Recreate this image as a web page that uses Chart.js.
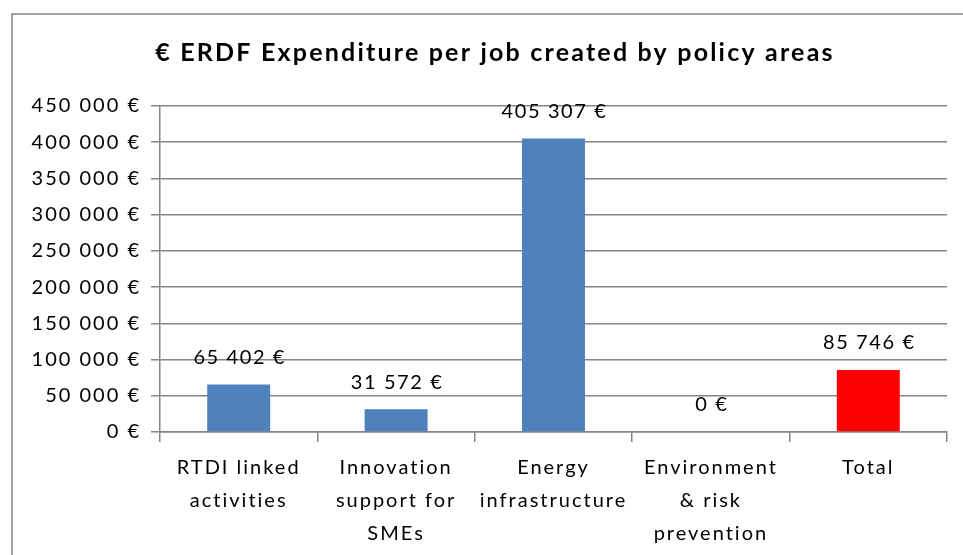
<!DOCTYPE html>
<html><head><meta charset="utf-8">
<script src="https://cdn.jsdelivr.net/npm/chart.js@4"></script>
<style>html,body{margin:0;padding:0;background:#fff}#wrap{width:963px;height:555px;position:relative}</style>
</head><body><div id="wrap"><canvas id="c" width="963" height="555"></canvas></div>
<script>
const titleText = "€ ERDF Expenditure per job created by policy areas";
const categories = [["RTDI linked","activities"],["Innovation","support for","SMEs"],["Energy","infrastructure"],["Environment","& risk","prevention"],["Total"]];
const values = [65402, 31572, 405307, 0, 85746];
const barColors = ["#4F81BD","#4F81BD","#4F81BD","#4F81BD","#FF0000"];
const yMin = 0, yMax = 450000, yStep = 50000;

const FONT = "Lato, 'Open Sans', sans-serif";
function fmt(v){ return String(Math.round(v)).replace(/\B(?=(\d{3})+(?!\d))/g, "\u00A0") + "\u00A0€"; }

const canvas = document.getElementById('c');

const framePlugin = {
  id:'frame',
  beforeDraw(chart){
    const ctx = chart.ctx;
    ctx.save();
    ctx.strokeStyle = '#858585'; ctx.lineWidth = 1.5;
    ctx.beginPath(); ctx.moveTo(12, 555); ctx.lineTo(12, 14); ctx.lineTo(963, 14); ctx.stroke();
    ctx.fillStyle = '#000'; ctx.font = "bold 25px " + FONT; ctx.letterSpacing = '2.2px';
    ctx.textAlign='center'; ctx.textBaseline='middle';
    ctx.fillText(titleText, 495, 53);
    ctx.restore();
    ctx.letterSpacing = '2px';
  },
  afterDatasetsDraw(chart){
    const ctx = chart.ctx; const meta = chart.getDatasetMeta(0);
    ctx.save(); ctx.fillStyle='#000'; ctx.font = "20px " + FONT; ctx.letterSpacing = '1.6px';
    ctx.textAlign='center'; ctx.textBaseline='middle';
    meta.data.forEach((bar,i)=>{ ctx.fillText(fmt(values[i]), bar.x + 1, bar.y - 27); });
    ctx.restore();
  },
  afterDraw(chart){ chart.ctx.letterSpacing = '0px'; }
};

new Chart(canvas, {
  type:'bar',
  data:{ labels: categories, datasets:[{ data: values, backgroundColor: barColors, barPercentage:0.4, categoryPercentage:1 }]},
  options:{
    responsive:false, animation:false,
    layout:{ padding:{ left:0, right:16, top:106, bottom:0 } },
    plugins:{ legend:{display:false}, title:{display:false}, tooltip:{enabled:false} },
    scales:{
      x:{
        grid:{ drawOnChartArea:false, drawTicks:true, tickLength:10, color:'#858585', lineWidth:1.5, offset:true },
        border:{ display:true, color:'#858585', width:1.5 },
        ticks:{ color:'#000', font:{ family:FONT, size:20, lineHeight:1.65 }, padding:9, maxRotation:0, autoSkip:false },
        afterFit(s){ s.height = 123; }
      },
      y:{
        min:yMin, max:yMax,
        grid:{ color:'#858585', lineWidth:1.5, tickLength:9 },
        border:{ display:true, color:'#858585', width:1.5 },
        ticks:{ stepSize:yStep, color:'#000', font:{ family:FONT, size:20 }, padding:10, callback:(v)=>fmt(v) },
        afterFit(s){ s.width = 160; }
      }
    }
  },
  plugins:[framePlugin]
});
</script></body></html>
